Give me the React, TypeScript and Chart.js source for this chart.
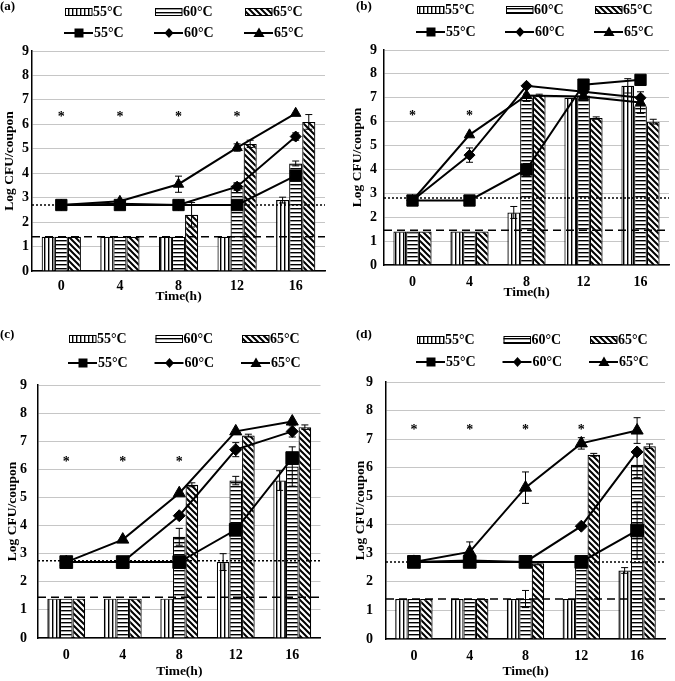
import React, { useEffect, useRef } from 'react';
import { Chart, registerables } from 'chart.js';

Chart.register(...registerables);

const FONT = "'Liberation Serif', 'Times New Roman', serif";

const timeLabels = ['0', '4', '8', '12', '16'];
const seriesLabels = ['55°C', '60°C', '65°C'];

// ---------- panel (a) ----------
const aBar55 = [1.4, 1.4, 1.4, 1.4, 2.9];
const aBar60 = [1.4, 1.4, 1.4, 3.5, 4.4];
const aBar65 = [1.4, 1.4, 2.3, 5.2, 6.1];
const aBar55Err = [0, 0, 0, 0, 0.12];
const aBar60Err = [0, 0, 0, 0.1, 0.1];
const aBar65Err = [0, 0, 0.5, 0.15, 0.3];
const aLine55 = [2.7, 2.7, 2.7, 2.7, 3.9];
const aLine60 = [2.7, 2.75, 2.7, 3.45, 5.5];
const aLine65 = [2.7, 2.85, 3.55, 5.05, 6.45];
const aLine55Err = [0, 0, 0, 0, 0];
const aLine60Err = [0, 0, 0, 0.15, 0.15];
const aLine65Err = [0, 0.05, 0.33, 0.15, 0];
const aStars = [6.45, 6.45, 6.45, 6.45, null];
const aDotted = 2.7;
const aDashed = 1.4;

// ---------- panel (b) ----------
const bBar55 = [1.4, 1.4, 2.2, 7.0, 7.5];
const bBar60 = [1.4, 1.4, 7.0, 7.1, 6.65];
const bBar65 = [1.4, 1.4, 7.1, 6.15, 6.0];
const bBar55Err = [0, 0, 0.25, 0, 0.3];
const bBar60Err = [0, 0, 0.15, 0, 0.3];
const bBar65Err = [0, 0, 0.05, 0.05, 0.1];
const bLine55 = [2.7, 2.7, 4.0, 7.55, 7.75];
const bLine60 = [2.7, 4.6, 7.5, 7.25, 7.0];
const bLine65 = [2.7, 5.45, 7.1, 7.05, 6.8];
const bLine55Err = [0, 0, 0.25, 0, 0];
const bLine60Err = [0, 0.3, 0, 0, 0.25];
const bLine65Err = [0, 0, 0, 0, 0];
const bStars = [6.4, 6.4, null, null, null];
const bDotted = 2.8;
const bDashed = 1.45;

// ---------- panel (c) ----------
const cBar55 = [1.4, 1.4, 1.4, 2.7, 5.6];
const cBar60 = [1.4, 1.4, 3.6, 5.6, 6.1];
const cBar65 = [1.4, 1.4, 5.45, 7.2, 7.5];
const cBar55Err = [0, 0, 0, 0.3, 0.35];
const cBar60Err = [0, 0, 0.3, 0.15, 0.7];
const cBar65Err = [0, 0, 0.07, 0.05, 0.08];
const cLine55 = [2.7, 2.7, 2.7, 3.85, 6.4];
const cLine60 = [2.7, 2.7, 4.35, 6.7, 7.35];
const cLine65 = [2.7, 3.5, 5.15, 7.35, 7.7];
const cLine55Err = [0, 0, 0, 0, 0];
const cLine60Err = [0, 0, 0, 0.25, 0.2];
const cLine65Err = [0, 0, 0, 0, 0];
const cStars = [6.4, 6.4, 6.4, null, null];
const cDotted = 2.75;
const cDashed = 1.45;

// ---------- panel (d) ----------
const dBar55 = [1.4, 1.4, 1.4, 1.4, 2.4];
const dBar60 = [1.4, 1.4, 1.4, 2.7, 6.1];
const dBar65 = [1.4, 1.4, 2.65, 6.45, 6.75];
const dBar55Err = [0, 0, 0, 0, 0.1];
const dBar60Err = [0, 0, 0.3, 0, 0.45];
const dBar65Err = [0, 0, 0.05, 0.05, 0.08];
const dLine55 = [2.7, 2.7, 2.7, 2.7, 3.8];
const dLine60 = [2.7, 2.75, 2.7, 3.95, 6.55];
const dLine65 = [2.7, 3.05, 5.3, 6.85, 7.3];
const dLine55Err = [0, 0, 0, 0, 1.0];
const dLine60Err = [0, 0, 0, 0, 0];
const dLine65Err = [0, 0.35, 0.55, 0.2, 0.45];
const dStars = [7.45, 7.45, 7.45, 7.45, null];
const dDotted = 2.7;
const dDashed = 1.4;

type Panel = {
  label: string;
  bars: number[][];
  barErr: number[][];
  lines: number[][];
  lineErr: number[][];
  stars: (number | null)[];
  dotted: number;
  dashed: number;
  box: { x: number; y: number; w: number; h: number };
  yWidth: number;
  xHeight: number;
  padTop: number;
  padRight: number;
  yTickPad: number;
  xTickPad: number;
  yTitlePad: number;
  xTitlePad: number;
  legendX: number;
  legendDX: number;
  row1: number;
  row2: number;
  labelX: number;
  labelY: number;
  radii: number[];
};

const panels: Panel[] = [
  {
    label: '(a)',
    bars: [aBar55, aBar60, aBar65],
    barErr: [aBar55Err, aBar60Err, aBar65Err],
    lines: [aLine55, aLine60, aLine65],
    lineErr: [aLine55Err, aLine60Err, aLine65Err],
    stars: aStars, dotted: aDotted, dashed: aDashed,
    box: { x: 0, y: 0, w: 337, h: 340 },
    yWidth: 32, xHeight: 69, padTop: 51, padRight: 12,
    yTickPad: 3, xTickPad: 7, yTitlePad: 1.5, xTitlePad: 35,
    legendX: 65, legendDX: 90, row1: 12, row2: 33, labelX: 0, labelY: 7,
    radii: [8, 5.5, 6],
  },
  {
    label: '(b)',
    bars: [bBar55, bBar60, bBar65],
    barErr: [bBar55Err, bBar60Err, bBar65Err],
    lines: [bLine55, bLine60, bLine65],
    lineErr: [bLine55Err, bLine60Err, bLine65Err],
    stars: bStars, dotted: bDotted, dashed: bDashed,
    box: { x: 335, y: 0, w: 343, h: 340 },
    yWidth: 49, xHeight: 75, padTop: 50, padRight: 1.5,
    yTickPad: 7, xTickPad: 8.5, yTitlePad: 14.5, xTitlePad: 39,
    legendX: 82, legendDX: 89, row1: 10, row2: 32, labelX: 21, labelY: 7,
    radii: [8, 5.5, 6],
  },
  {
    label: '(c)',
    bars: [cBar55, cBar60, cBar65],
    barErr: [cBar55Err, cBar60Err, cBar65Err],
    lines: [cLine55, cLine60, cLine65],
    lineErr: [cLine55Err, cLine60Err, cLine65Err],
    stars: cStars, dotted: cDotted, dashed: cDashed,
    box: { x: 0, y: 330, w: 337, h: 351 },
    yWidth: 38, xHeight: 43, padTop: 55, padRight: 16.5,
    yTickPad: 11, xTickPad: 8.5, yTitlePad: 4.5, xTitlePad: 1,
    legendX: 69, legendDX: 86.5, row1: 9, row2: 33, labelX: 0, labelY: 5,
    radii: [9, 6, 7],
  },
  {
    label: '(d)',
    bars: [dBar55, dBar60, dBar65],
    barErr: [dBar55Err, dBar60Err, dBar65Err],
    lines: [dLine55, dLine60, dLine65],
    lineErr: [dLine55Err, dLine60Err, dLine65Err],
    stars: dStars, dotted: dDotted, dashed: dDashed,
    box: { x: 335, y: 330, w: 340, h: 351 },
    yWidth: 51, xHeight: 42, padTop: 52, padRight: 5,
    yTickPad: 13, xTickPad: 8.5, yTitlePad: 17, xTitlePad: 1,
    legendX: 82, legendDX: 86.5, row1: 10, row2: 32, labelX: 21, labelY: 5,
    radii: [9, 6, 7],
  },
];

function tile(w: number, h: number, draw: (c: CanvasRenderingContext2D) => void) {
  const cv = document.createElement('canvas');
  cv.width = w;
  cv.height = h;
  const c = cv.getContext('2d')!;
  c.fillStyle = '#fff';
  c.fillRect(0, 0, w, h);
  c.fillStyle = '#000';
  c.strokeStyle = '#000';
  draw(c);
  return cv;
}

function makePatterns(ctx: CanvasRenderingContext2D) {
  const v = tile(4, 4, (c) => c.fillRect(0, 0, 1.4, 4));
  const h = tile(4, 4, (c) => c.fillRect(0, 0, 4, 1.4));
  const d = tile(6, 6, (c) => {
    c.lineWidth = 2;
    c.beginPath();
    c.moveTo(-1, -1); c.lineTo(7, 7);
    c.moveTo(-1, 5); c.lineTo(1, 7);
    c.moveTo(5, -1); c.lineTo(7, 1);
    c.stroke();
  });
  return [v, h, d].map((t) => ctx.createPattern(t, 'repeat')!);
}

function drawMarker(ctx: CanvasRenderingContext2D, kind: number, cx: number, cy: number) {
  ctx.beginPath();
  if (kind === 0) {
    ctx.rect(cx - 4.5, cy - 4.5, 9, 9);
  } else if (kind === 1) {
    ctx.moveTo(cx, cy - 5); ctx.lineTo(cx + 4.5, cy); ctx.lineTo(cx, cy + 5); ctx.lineTo(cx - 4.5, cy);
    ctx.closePath();
  } else {
    ctx.moveTo(cx, cy - 5.5); ctx.lineTo(cx + 5.5, cy + 4); ctx.lineTo(cx - 5.5, cy + 4);
    ctx.closePath();
  }
  ctx.fill();
}

function buildChart(canvas: HTMLCanvasElement, p: Panel) {
  const ctx0 = canvas.getContext('2d')!;
  const patterns = makePatterns(ctx0);
  const pointStyles = ['rect', 'rectRot', 'triangle'];
  const datasets: any[] = [];
  p.bars.forEach((d, i) =>
    datasets.push({
      type: 'bar', label: seriesLabels[i], data: d, errors: p.barErr[i],
      backgroundColor: patterns[i], borderColor: '#000', borderWidth: 1.2,
      categoryPercentage: 0.67, barPercentage: 1, order: 2,
    })
  );
  p.lines.forEach((d, i) =>
    datasets.push({
      type: 'line', label: seriesLabels[i], data: d, errors: p.lineErr[i],
      borderColor: '#000', borderWidth: 2, pointStyle: pointStyles[i], pointRadius: p.radii[i],
      pointBackgroundColor: '#000', pointBorderColor: '#000', pointBorderWidth: 1,
      fill: false, tension: 0, order: 1,
    })
  );

  const errorBars = {
    id: 'errorBars',
    afterDatasetDraw(chart: any, args: any) {
      const ds = chart.data.datasets[args.index];
      const errs = ds.errors;
      if (!errs) return;
      const ys = chart.scales.y;
      const ctx = chart.ctx;
      ctx.save();
      ctx.strokeStyle = '#000';
      ctx.lineWidth = 1;
      args.meta.data.forEach((el: any, i: number) => {
        const e = errs[i];
        const v = ds.data[i];
        if (!e || v == null) return;
        const x = el.x;
        const y1 = ys.getPixelForValue(v + e);
        const y2 = ys.getPixelForValue(v - e);
        ctx.beginPath();
        ctx.moveTo(x, y1); ctx.lineTo(x, y2);
        ctx.moveTo(x - 3.5, y1); ctx.lineTo(x + 3.5, y1);
        ctx.moveTo(x - 3.5, y2); ctx.lineTo(x + 3.5, y2);
        ctx.stroke();
      });
      ctx.restore();
    },
  };

  const overlay = {
    id: 'overlay',
    afterDatasetsDraw(chart: any) {
      const ctx = chart.ctx;
      const ca = chart.chartArea;
      const ys = chart.scales.y;
      const xs = chart.scales.x;
      ctx.save();
      ctx.strokeStyle = '#000';
      ctx.lineWidth = 1.5;
      ctx.setLineDash([2, 2]);
      let yy = ys.getPixelForValue(p.dotted);
      ctx.beginPath(); ctx.moveTo(ca.left, yy); ctx.lineTo(ca.right, yy); ctx.stroke();
      ctx.setLineDash([8, 5]);
      yy = ys.getPixelForValue(p.dashed);
      ctx.beginPath(); ctx.moveTo(ca.left, yy); ctx.lineTo(ca.right, yy); ctx.stroke();
      ctx.setLineDash([]);
      ctx.fillStyle = '#000';
      ctx.font = `bold 14px ${FONT}`;
      ctx.textAlign = 'center';
      ctx.textBaseline = 'alphabetic';
      p.stars.forEach((s, i) => {
        if (s == null) return;
        ctx.fillText('*', xs.getPixelForValue(i), ys.getPixelForValue(s) + 8);
      });
      ctx.restore();
    },
    afterDraw(chart: any) {
      const ctx = chart.ctx;
      ctx.save();
      ctx.fillStyle = '#000';
      ctx.strokeStyle = '#000';
      ctx.font = `bold 13px ${FONT}`;
      ctx.textBaseline = 'middle';
      ctx.textAlign = 'left';
      ctx.fillText(p.label, p.labelX, p.labelY);
      ctx.font = `bold 14px ${FONT}`;
      for (let k = 0; k < 3; k++) {
        const x = p.legendX + k * p.legendDX;
        ctx.fillStyle = patterns[k];
        ctx.fillRect(x, p.row1 - 3.5, 27, 7);
        ctx.lineWidth = 1;
        ctx.strokeRect(x + 0.5, p.row1 - 3.5, 26.5, 7);
        ctx.fillStyle = '#000';
        ctx.fillText(seriesLabels[k], x + 28, p.row1 + 0.5);
        ctx.lineWidth = 2;
        ctx.beginPath();
        ctx.moveTo(x - 1, p.row2); ctx.lineTo(x + 28, p.row2);
        ctx.stroke();
        drawMarker(ctx, k, x + 14, p.row2);
        ctx.fillText(seriesLabels[k], x + 29, p.row2 + 0.5);
      }
      ctx.restore();
    },
  };

  return new Chart(canvas, {
    type: 'bar',
    data: { labels: timeLabels, datasets },
    options: {
      responsive: false,
      animation: false,
      devicePixelRatio: 1,
      layout: { padding: { left: 0, top: p.padTop, right: p.padRight, bottom: 0 } },
      plugins: { legend: { display: false }, tooltip: { enabled: false } },
      scales: {
        x: {
          type: 'category',
          grid: { display: false, drawTicks: false },
          border: { color: '#000', width: 1.5 },
          ticks: { color: '#000', font: { family: FONT, size: 14, weight: 'bold' }, padding: p.xTickPad, maxRotation: 0 },
          title: { display: true, text: 'Time(h)', color: '#000', font: { family: FONT, size: 13.5, weight: 'bold' }, padding: { top: 0, bottom: p.xTitlePad } },
          afterFit: (s: any) => { s.height = p.xHeight; },
        },
        y: {
          min: 0,
          max: 9,
          ticks: { stepSize: 1, color: '#000', font: { family: FONT, size: 14, weight: 'bold' }, padding: p.yTickPad },
          grid: { color: '#c6c6c6', lineWidth: 1, drawTicks: false },
          border: { color: '#000', width: 1.5 },
          title: { display: true, text: 'Log CFU/coupon', color: '#000', font: { family: FONT, size: 13.5, weight: 'bold' }, padding: { top: p.yTitlePad, bottom: 0 } },
          afterFit: (s: any) => { s.width = p.yWidth; },
        },
      },
    } as any,
    plugins: [errorBars, overlay],
  } as any);
}

function PanelChart({ p }: { p: Panel }) {
  const ref = useRef<HTMLCanvasElement>(null);
  useEffect(() => {
    if (!ref.current) return;
    const chart = buildChart(ref.current, p);
    return () => chart.destroy();
  }, [p]);
  return (
    <canvas
      ref={ref}
      width={p.box.w}
      height={p.box.h}
      style={{ position: 'absolute', left: p.box.x, top: p.box.y, width: p.box.w, height: p.box.h, display: 'block' }}
    />
  );
}

export default function App() {
  useEffect(() => {
    document.body.style.margin = '0';
    document.body.style.overflow = 'hidden';
  }, []);
  return (
    <div style={{ position: 'absolute', left: 0, top: 0, width: 675, height: 681, overflow: 'hidden', background: '#fff' }}>
      {panels.map((p) => (
        <PanelChart key={p.label} p={p} />
      ))}
    </div>
  );
}
